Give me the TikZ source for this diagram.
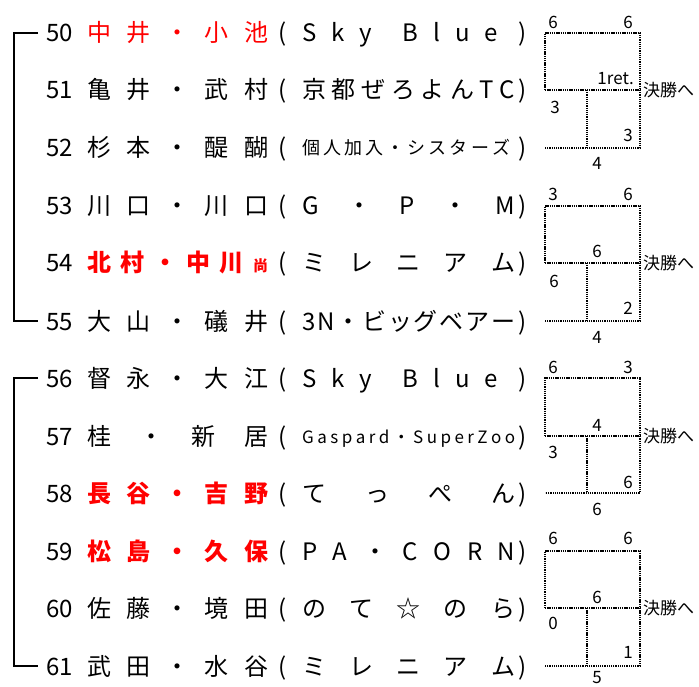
\documentclass[tikz,border=0pt]{standalone}
\usepackage{fontspec}
\setmainfont{Noto Sans CJK JP}
\usetikzlibrary{positioning}

\newcommand{\nm}[1]{\makebox[181pt][s]{#1}}
\newcommand{\tm}[1]{\makebox[213pt][s]{#1}}

\begin{document}
\begin{tikzpicture}[x=1pt,y=-1pt,
    txt/.style={inner sep=0pt,font=\fontsize{24}{24}\selectfont,text height=21pt,text depth=3pt},
    num/.style={txt,anchor=west},
    pname/.style={txt,anchor=west},
    team/.style={txt,anchor=west},
    small/.style={inner sep=0pt,anchor=west,font=\fontsize{18}{18}\selectfont,text height=16pt,text depth=2pt},
    score/.style={inner sep=0pt,font=\fontsize{17}{17}\selectfont},
    dotline/.style={line width=2.2pt,dash pattern=on 1.3pt off 0.9pt},
    brk/.style={line width=1.6pt}]
    \useasboundingbox (0,0) rectangle (699,687);

    % Block 50-55
    \node[num] (n50) at (46,33) {50};
    \node[pname,red] (p50) at (87,33) {\nm{中\hfill 井\hfill ・\hfill 小\hfill 池}};
    \node[txt] (o50) at (283,33) {(};
    \node[team] (t50) at (302,33) {\makebox[196pt][s]{S\hfill k\hfill y\hfill\hfill B\hfill l\hfill u\hfill e}};
    \node[txt] (c50) at (523,33) {)};

    \node[num] (n51) at (46,90) {51};
    \node[pname] (p51) at (87,90) {\nm{亀\hfill 井\hfill ・\hfill 武\hfill 村}};
    \node[txt] (o51) at (283,90) {(};
    \node[team] (t51) at (302,90) {\tm{京\hfill 都\hfill ぜ\hfill ろ\hfill よ\hfill ん\hfill T\hfill C}};
    \node[txt] (c51) at (523,90) {)};

    \node[num] (n52) at (46,148) {52};
    \node[pname] (p52) at (87,148) {\nm{杉\hfill 本\hfill ・\hfill 醍\hfill 醐}};
    \node[txt] (o52) at (283,148) {(};
    \node[small] (t52) at (302,148) {\makebox[208pt][s]{個\hfill 人\hfill 加\hfill 入\hfill ・\hfill シ\hfill ス\hfill タ\hfill ー\hfill ズ}};
    \node[txt] (c52) at (523,148) {)};

    \node[num] (n53) at (46,206) {53};
    \node[pname] (p53) at (87,206) {\nm{川\hfill 口\hfill ・\hfill 川\hfill 口}};
    \node[txt] (o53) at (283,206) {(};
    \node[team] (t53) at (302,206) {\tm{G\hfill ・\hfill P\hfill ・\hfill M}};
    \node[txt] (c53) at (523,206) {)};

    \node[num] (n54) at (46,263) {54};
    \node[pname,red] (p54) at (87,263) {\nm{\bfseries 北\hfill 村\hfill ・\hfill 中\hfill 川\hfill{\fontsize{15}{15}\selectfont 尚}}};
    \node[txt] (o54) at (283,263) {(};
    \node[team] (t54) at (302,263) {\tm{ミ\hfill レ\hfill ニ\hfill ア\hfill ム}};
    \node[txt] (c54) at (523,263) {)};

    \node[num] (n55) at (46,321) {55};
    \node[pname] (p55) at (87,321) {\nm{大\hfill 山\hfill ・\hfill 礒\hfill 井}};
    \node[txt] (o55) at (283,321) {(};
    \node[team] (t55) at (302,321) {\tm{3\hfill N\hfill ・\hfill ビ\hfill ッ\hfill グ\hfill ベ\hfill ア\hfill ー}};
    \node[txt] (c55) at (523,321) {)};

    % Block 56-61
    \node[num] (n56) at (46,378) {56};
    \node[pname] (p56) at (87,378) {\nm{督\hfill 永\hfill ・\hfill 大\hfill 江}};
    \node[txt] (o56) at (283,378) {(};
    \node[team] (t56) at (302,378) {\makebox[196pt][s]{S\hfill k\hfill y\hfill\hfill B\hfill l\hfill u\hfill e}};
    \node[txt] (c56) at (523,378) {)};

    \node[num] (n57) at (46,436) {57};
    \node[pname] (p57) at (87,436) {\nm{桂\hfill ・\hfill 新\hfill 居}};
    \node[txt] (o57) at (283,436) {(};
    \node[small,font=\fontsize{17}{17}\selectfont] (t57) at (302,436) {\makebox[213pt][s]{G\hfill a\hfill s\hfill p\hfill a\hfill r\hfill d\hfill ・\hfill S\hfill u\hfill p\hfill e\hfill r\hfill Z\hfill o\hfill o}};
    \node[txt] (c57) at (523,436) {)};

    \node[num] (n58) at (46,493) {58};
    \node[pname,red] (p58) at (87,493) {\nm{\bfseries 長\hfill 谷\hfill ・\hfill 吉\hfill 野}};
    \node[txt] (o58) at (283,493) {(};
    \node[team] (t58) at (302,493) {\tm{て\hfill っ\hfill ぺ\hfill ん}};
    \node[txt] (c58) at (523,493) {)};

    \node[num] (n59) at (46,551) {59};
    \node[pname,red] (p59) at (87,551) {\nm{\bfseries 松\hfill 島\hfill ・\hfill 久\hfill 保}};
    \node[txt] (o59) at (283,551) {(};
    \node[team] (t59) at (302,551) {\tm{P\hfill A\hfill ・\hfill C\hfill O\hfill R\hfill N}};
    \node[txt] (c59) at (523,551) {)};

    \node[num] (n60) at (46,608) {60};
    \node[pname] (p60) at (87,608) {\nm{佐\hfill 藤\hfill ・\hfill 境\hfill 田}};
    \node[txt] (o60) at (283,608) {(};
    \node[team] (t60) at (302,608) {\tm{の\hfill て\hfill ☆\hfill の\hfill ら}};
    \node[txt] (c60) at (523,608) {)};

    \node[num] (n61) at (46,666) {61};
    \node[pname] (p61) at (87,666) {\nm{武\hfill 田\hfill ・\hfill 水\hfill 谷}};
    \node[txt] (o61) at (283,666) {(};
    \node[team] (t61) at (302,666) {\tm{ミ\hfill レ\hfill ニ\hfill ア\hfill ム}};
    \node[txt] (c61) at (523,666) {)};

    % Brackets on the left
    \draw[brk] ([xshift=-8pt]n50.west) -- ++(-24,0) |- ([xshift=-8pt]n55.west);
    \draw[brk] ([xshift=-8pt]n56.west) -- ++(-24,0) |- ([xshift=-8pt]n61.west);

    % League corners
    \coordinate (e50) at (545,33);  \coordinate (r50) at (640,33);
    \coordinate (e51) at (545,90);  \coordinate (r51) at (640,90);  \coordinate (m51) at (587,90);
    \coordinate (e52) at (545,148); \coordinate (r52) at (640,148); \coordinate (m52) at (587,148);
    \coordinate (e53) at (545,206); \coordinate (r53) at (640,206);
    \coordinate (e54) at (545,263); \coordinate (r54) at (640,263); \coordinate (m54) at (587,263);
    \coordinate (e55) at (545,321); \coordinate (r55) at (640,321); \coordinate (m55) at (587,321);
    \coordinate (e56) at (545,378); \coordinate (r56) at (640,378);
    \coordinate (e57) at (545,436); \coordinate (r57) at (640,436); \coordinate (m57) at (587,436);
    \coordinate (e58) at (545,493); \coordinate (r58) at (640,493); \coordinate (m58) at (587,493);
    \coordinate (e59) at (545,551); \coordinate (r59) at (640,551);
    \coordinate (e60) at (545,608); \coordinate (r60) at (640,608); \coordinate (m60) at (587,608);
    \coordinate (e61) at (545,666); \coordinate (r61) at (640,666); \coordinate (m61) at (587,666);

    % Dotted league lines
    \draw[dotline] (e51) -- (e50) -- (r50) -- (r52) -- (e52);
    \draw[dotline] (e51) -- (r51); \draw[dotline] (m51) -- (m52);
    \draw[dotline] (e54) -- (e53) -- (r53) -- (r55) -- (e55);
    \draw[dotline] (e54) -- (r54); \draw[dotline] (m54) -- (m55);
    \draw[dotline] (e57) -- (e56) -- (r56) -- (r58) -- (e58);
    \draw[dotline] (e57) -- (r57); \draw[dotline] (m57) -- (m58);
    \draw[dotline] (e60) -- (e59) -- (r59) -- (r61) -- (e61);
    \draw[dotline] (e60) -- (r60); \draw[dotline] (m60) -- (m61);

    % Scores 50-52
    \node[score] (s50a) at (553,22) {6};
    \node[score] (s50b) at (628,22) {6};
    \node[score,anchor=east] (s51a) at (634,79) {1ret.};
    \node[score] (s51b) at (555,107) {3};
    \node[score] (s52a) at (628,135) {3};
    \node[score] (s52b) at (597,163) {4};
    \node[score,anchor=west] (w51) at (643,90) {決勝へ};

    % Scores 53-55
    \node[score] (s53a) at (553,194) {3};
    \node[score] (s53b) at (628,194) {6};
    \node[score] (s54a) at (597,251) {6};
    \node[score] (s54b) at (554,281) {6};
    \node[score] (s55a) at (628,308) {2};
    \node[score] (s55b) at (597,337) {4};
    \node[score,anchor=west] (w54) at (643,263) {決勝へ};

    % Scores 56-58
    \node[score] (s56a) at (553,367) {6};
    \node[score] (s56b) at (628,367) {3};
    \node[score] (s57a) at (597,425) {4};
    \node[score] (s57b) at (553,452) {3};
    \node[score] (s58a) at (628,482) {6};
    \node[score] (s58b) at (597,509) {6};
    \node[score,anchor=west] (w57) at (643,436) {決勝へ};

    % Scores 59-61
    \node[score] (s59a) at (553,538) {6};
    \node[score] (s59b) at (628,538) {6};
    \node[score] (s60a) at (597,597) {6};
    \node[score] (s60b) at (553,623) {0};
    \node[score] (s61a) at (628,652) {1};
    \node[score] (s61b) at (597,678) {5};
    \node[score,anchor=west] (w60) at (643,608) {決勝へ};
\end{tikzpicture}
\end{document}
